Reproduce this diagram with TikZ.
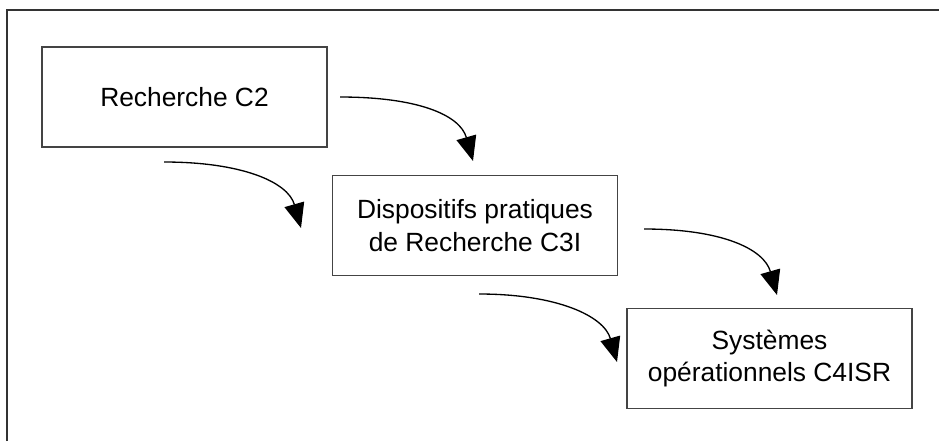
\documentclass[tikz,border=0pt]{standalone}
\usepackage{fontspec}
\setmainfont{Liberation Sans}
\usetikzlibrary{arrows.meta}
\definecolor{framegray}{HTML}{333333}
\definecolor{boxgray}{HTML}{444444}
\tikzset{
    flowtip/.tip={Triangle[length=14pt, width=11.5pt]},
    flow/.style={draw, line width=0.75pt, -flowtip}
}
\begin{document}
\begin{tikzpicture}[x=0.02cm, y=-0.02cm]
    \useasboundingbox (0,0) rectangle (939,441);
    \draw [framegray, line width=1.1pt] (7,441) -- (7,10) -- (939,10);

    \begin{scope}[every node/.style={rectangle, draw=boxgray, line width=0.85pt, minimum width=5.7cm, minimum height=2cm, align=center, font=\fontsize{15}{18.5}\selectfont}]
        \node (c2) at (184.5,97) {Recherche C2};
        \node (c3i) at (475,225.5) {Dispositifs pratiques\\de Recherche C3I};
        \node (c4isr) at (769.5,358.5) {Systèmes\\opérationnels C4ISR};
    \end{scope}

    \coordinate (c2out) at (340,97);
    \coordinate (c3top) at (473,161);
    \coordinate (c2low) at (164,162);
    \coordinate (c3left) at (301,228);
    \coordinate (c3out) at (644,229);
    \coordinate (c4top) at (777,295);
    \coordinate (c3low) at (479,294);
    \coordinate (c4left) at (617,362);

    \draw [flow] (c2out) .. controls +(78,0) and +(-13,-46) .. (c3top);
    \draw [flow] (c2low) .. controls +(78,0) and +(-13,-46) .. (c3left);
    \draw [flow] (c3out) .. controls +(78,0) and +(-13,-46) .. (c4top);
    \draw [flow] (c3low) .. controls +(78,0) and +(-13,-46) .. (c4left);
\end{tikzpicture}
\end{document}
